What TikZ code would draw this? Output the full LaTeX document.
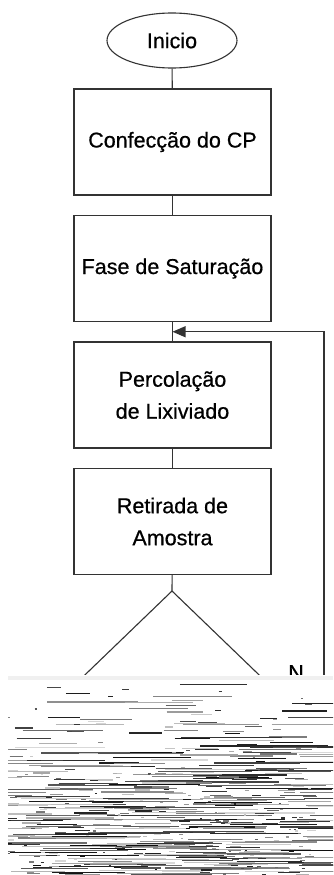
\documentclass[tikz,border=0pt]{standalone}
\usepackage{fontspec}
\setmainfont{Liberation Sans}[FakeBold=0.6]
\usetikzlibrary{arrows.meta,shapes.geometric,calc}
\begin{document}
\begin{tikzpicture}[x=1pt,y=-1pt,
  txt/.style={font=\fontsize{21.5}{32}\selectfont, text=black},
  box/.style={txt, draw=black!80, line width=1.1pt, minimum width=197pt, minimum height=106pt, align=center, inner sep=0pt},
  term/.style={txt, draw=black!80, line width=1.1pt, ellipse, minimum width=130pt, minimum height=55pt, inner sep=0pt},
  conn/.style={draw=black!80, line width=1.1pt},
  back/.style={conn, -{Triangle[length=13pt,width=11pt]}}
]
\useasboundingbox (0,0) rectangle (333,875);
\fill[white] (0,0) rectangle (333,875);

\node[term] (inicio) at (172,40.5) {Inicio};
\node[box] (cp) at (172.5,142) {Confecção do CP};
\node[box] (sat) at (172.5,268.5) {Fase de Saturação};
\node[box] (perc) at (172.5,395) {Percolação\\de Lixiviado};
\node[box] (ret) at (172.5,521.5) {Retirada de\\Amostra};

\draw[conn] (inicio) -- (cp);
\draw[conn] (cp) -- (sat);
\draw[conn] (sat) -- (perc);
\draw[conn] (perc) -- (ret);

\coordinate (join) at ($(sat.south)!0.5!(perc.north)$);
\coordinate (dtop) at (172,591);
\coordinate (loopend) at (324,700);

\begin{scope}
  \clip (0,0) rectangle (333,674);
  \draw[conn] (ret) -- (dtop);
  \draw[conn] (dtop) -- ++(-110,106);
  \draw[conn] (dtop) -- ++(110,106);
  \draw[back] (loopend) |- (join);
  \node[txt, anchor=base] (nao) at (296,680) {N};
\end{scope}

\begin{scope}
  \clip (8,675) rectangle (333,875);
  \fill[black!6] (8,676) rectangle (333,680);
  \pgfmathsetseed{7}
  \foreach \i in {1,...,620}{
    \pgfmathsetmacro\ra{rnd}
    \pgfmathsetmacro\rb{rnd}
    \pgfmathsetmacro\rc{rnd}
    \pgfmathsetmacro\rd{rnd}
    \pgfmathsetmacro\yy{675+200*sqrt(\ra)}
    \pgfmathsetmacro\xx{325*\rb-15}
    \pgfmathsetmacro\ll{2+100*\rc*\rc}
    \pgfmathsetmacro\gg{int(15+80*\rd)}
    \draw[black!\gg, line width=1.2pt] (\xx,\yy) -- ++(\ll,0);
  }
\end{scope}
\end{tikzpicture}
\end{document}
